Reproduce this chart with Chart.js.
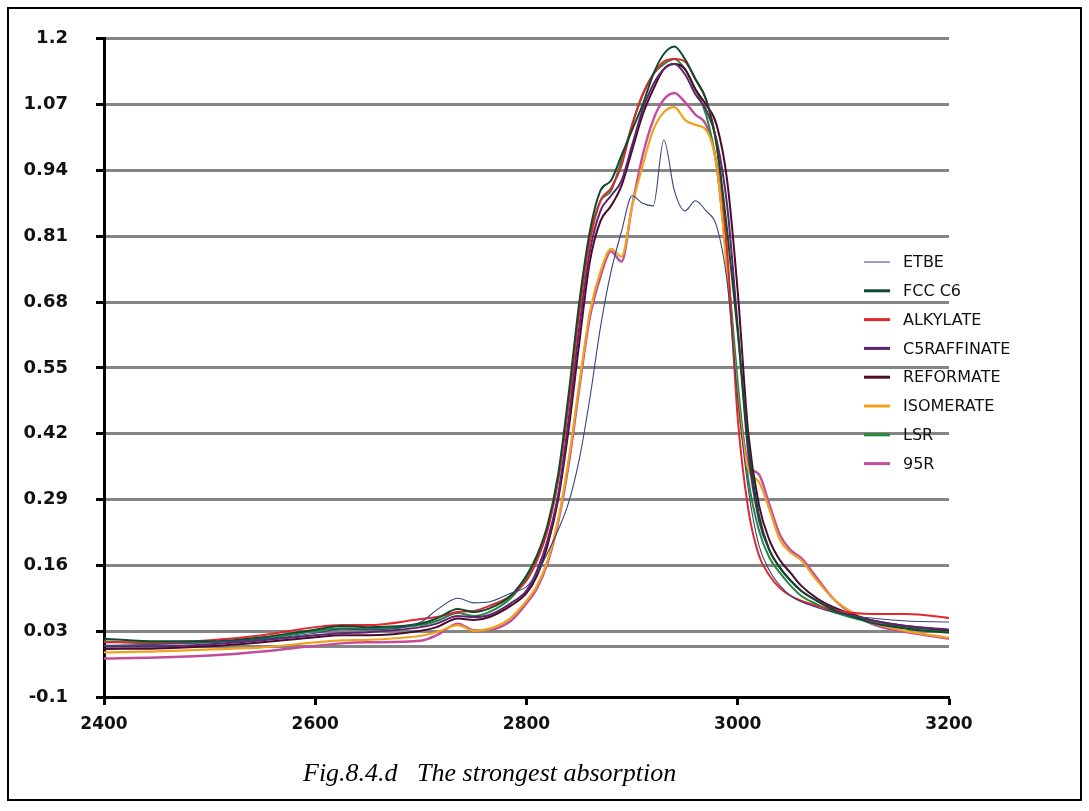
<!DOCTYPE html>
<html>
<head>
<meta charset="utf-8">
<title>Fig.8.4.d The strongest absorption</title>
<script src="https://cdn.jsdelivr.net/npm/chart.js@4.4.1/dist/chart.umd.min.js"></script>
<style>
  html, body { margin: 0; padding: 0; background: #ffffff; }
  canvas { display: block; }
</style>
</head>
<body>
<canvas id="spectra" width="1089" height="811"></canvas>
<script>
// Wavenumber grid (cm-1) shared by every spectrum
const wavenumbers = [2400, 2450, 2500, 2550, 2600, 2625, 2650, 2700, 2715, 2735,
  2750, 2765, 2785, 2800, 2810, 2820, 2830, 2840, 2850, 2860,
  2870, 2880, 2890, 2900, 2910, 2920, 2930, 2940, 2950, 2960,
  2970, 2980, 2990, 3000, 3010, 3020, 3030, 3040, 3050, 3060,
  3075, 3090, 3110, 3130, 3160, 3200];

// Absorbance of each sample
const etbe = [0.002, 0.004, 0.008, 0.014, 0.026, 0.034, 0.033, 0.048, 0.072, 0.095,
  0.086, 0.088, 0.105, 0.118, 0.145, 0.185, 0.230, 0.285, 0.370, 0.490,
  0.630, 0.740, 0.820, 0.890, 0.875, 0.870, 1.000, 0.900, 0.860, 0.880,
  0.860, 0.830, 0.720, 0.490, 0.310, 0.200, 0.150, 0.120, 0.100, 0.088,
  0.077, 0.068, 0.060, 0.055, 0.050, 0.048];
const fccC6 = [0.015, 0.010, 0.010, 0.018, 0.033, 0.040, 0.038, 0.045, 0.055, 0.074,
  0.068, 0.075, 0.100, 0.140, 0.180, 0.240, 0.340, 0.500, 0.680, 0.820,
  0.900, 0.920, 0.970, 1.020, 1.070, 1.130, 1.170, 1.185, 1.160, 1.120,
  1.080, 0.990, 0.820, 0.620, 0.400, 0.260, 0.190, 0.155, 0.130, 0.110,
  0.090, 0.072, 0.058, 0.045, 0.035, 0.027];
const alkylate = [0.008, 0.008, 0.012, 0.022, 0.038, 0.042, 0.042, 0.054, 0.058, 0.068,
  0.070, 0.080, 0.100, 0.130, 0.170, 0.230, 0.330, 0.480, 0.660, 0.800,
  0.880, 0.905, 0.950, 1.030, 1.090, 1.130, 1.155, 1.160, 1.155, 1.120,
  1.080, 0.990, 0.780, 0.450, 0.270, 0.180, 0.140, 0.115, 0.100, 0.090,
  0.080, 0.072, 0.066, 0.064, 0.064, 0.056];
const c5Raffinate = [0.000, 0.000, 0.004, 0.012, 0.022, 0.026, 0.028, 0.038, 0.045, 0.060,
  0.058, 0.062, 0.085, 0.110, 0.150, 0.210, 0.300, 0.450, 0.630, 0.780,
  0.860, 0.890, 0.920, 0.990, 1.060, 1.110, 1.140, 1.150, 1.130, 1.090,
  1.060, 1.000, 0.870, 0.630, 0.380, 0.250, 0.190, 0.155, 0.130, 0.110,
  0.090, 0.075, 0.060, 0.050, 0.040, 0.033];
const reformate = [-0.005, -0.004, 0.000, 0.008, 0.018, 0.022, 0.022, 0.031, 0.038, 0.055,
  0.052, 0.058, 0.080, 0.105, 0.140, 0.200, 0.290, 0.430, 0.600, 0.760,
  0.840, 0.870, 0.910, 0.980, 1.050, 1.100, 1.140, 1.150, 1.140, 1.100,
  1.070, 1.030, 0.920, 0.700, 0.420, 0.280, 0.210, 0.170, 0.145, 0.120,
  0.095, 0.078, 0.062, 0.050, 0.040, 0.032];
const isomerate = [-0.012, -0.010, -0.006, -0.002, 0.008, 0.012, 0.013, 0.021, 0.028, 0.042,
  0.031, 0.035, 0.056, 0.090, 0.120, 0.170, 0.250, 0.370, 0.520, 0.660,
  0.740, 0.785, 0.770, 0.870, 0.950, 1.020, 1.055, 1.065, 1.040, 1.030,
  1.020, 0.950, 0.740, 0.490, 0.350, 0.325, 0.270, 0.210, 0.185, 0.170,
  0.130, 0.095, 0.065, 0.045, 0.030, 0.017];
const lsr = [0.010, 0.006, 0.008, 0.015, 0.030, 0.036, 0.035, 0.042, 0.050, 0.066,
  0.060, 0.068, 0.095, 0.135, 0.175, 0.235, 0.330, 0.490, 0.670, 0.810,
  0.880, 0.900, 0.960, 1.030, 1.090, 1.130, 1.150, 1.160, 1.140, 1.100,
  1.050, 0.950, 0.760, 0.520, 0.330, 0.230, 0.175, 0.145, 0.120, 0.100,
  0.083, 0.068, 0.056, 0.045, 0.038, 0.030];
const r95 = [-0.024, -0.022, -0.018, -0.010, 0.001, 0.006, 0.008, 0.011, 0.022, 0.045,
  0.032, 0.033, 0.050, 0.085, 0.115, 0.165, 0.245, 0.360, 0.510, 0.650,
  0.730, 0.780, 0.760, 0.870, 0.970, 1.040, 1.080, 1.093, 1.075, 1.050,
  1.030, 0.950, 0.750, 0.500, 0.360, 0.340, 0.280, 0.220, 0.190, 0.175,
  0.135, 0.095, 0.062, 0.042, 0.028, 0.015];

const seriesNames = ['ETBE', 'FCC C6', 'ALKYLATE', 'C5RAFFINATE', 'REFORMATE', 'ISOMERATE', 'LSR', '95R'];
const seriesValues = [etbe, fccC6, alkylate, c5Raffinate, reformate, isomerate, lsr, r95];

// Axis ticks
const xTickValues = [2400, 2600, 2800, 3000, 3200];
const yTickValues = [-0.1, 0, 0.03, 0.16, 0.29, 0.42, 0.55, 0.68, 0.81, 0.94, 1.07, 1.2];
const yTickLabels = ['-0.1', '', '0.03', '0.16', '0.29', '0.42', '0.55', '0.68', '0.81', '0.94', '1.07', '1.2'];

const captionText = 'Fig.8.4.d   The strongest absorption';

// Styling
const lineColors = ['#34457f', '#0f4a2e', '#e2262b', '#5e2470', '#4c0b2b', '#f2a31e', '#23893c', '#c24d9d'];
const lineWidths = [1.1, 2, 2, 2, 2, 2.2, 2, 2.4];
const legendSwatchWidths = [1, 3, 3, 3, 3, 3, 3, 3];
const xTickFont = { family: 'DejaVu Sans', size: 17, weight: 'bold' };
const yTickFont = { family: 'DejaVu Sans', size: 18, weight: 'bold' };

const datasets = seriesNames.map((name, i) => ({
  label: name,
  data: wavenumbers.map((w, k) => ({ x: w, y: seriesValues[i][k] })),
  borderColor: lineColors[i],
  backgroundColor: lineColors[i],
  borderWidth: lineWidths[i],
  pointRadius: 0,
  fill: false,
  cubicInterpolationMode: 'monotone'
}));

// Frame, in-plot legend and caption
const decorations = {
  id: 'decorations',
  afterDraw(chart) {
    const ctx = chart.ctx;
    ctx.save();
    // outer frame
    ctx.strokeStyle = '#000';
    ctx.lineWidth = 2;
    ctx.strokeRect(8, 8, 1073, 792);

    // legend
    ctx.font = '16px "DejaVu Sans"';
    ctx.textBaseline = 'middle';
    ctx.textAlign = 'left';
    chart.data.datasets.forEach((ds, i) => {
      const y = 262 + i * 28.8;
      ctx.strokeStyle = ds.borderColor;
      ctx.lineWidth = legendSwatchWidths[i];
      ctx.beginPath();
      ctx.moveTo(864, y);
      ctx.lineTo(890, y);
      ctx.stroke();
      ctx.fillStyle = '#111';
      ctx.fillText(ds.label, 903, y + 1);
    });

    // caption
    ctx.font = 'italic 26px "Liberation Serif"';
    ctx.textBaseline = 'alphabetic';
    ctx.fillStyle = '#000';
    ctx.fillText(captionText, 303, 781);
    ctx.restore();
  }
};

new Chart(document.getElementById('spectra'), {
  type: 'line',
  data: { datasets },
  options: {
    responsive: false,
    animation: false,
    devicePixelRatio: 1,
    layout: { padding: { left: 0, top: 33, right: 140, bottom: 54 } },
    plugins: {
      legend: { display: false },
      tooltip: { enabled: false }
    },
    scales: {
      x: {
        type: 'linear',
        min: 2400,
        max: 3200,
        afterBuildTicks(scale) { scale.ticks = xTickValues.map(v => ({ value: v })); },
        afterFit(scale) { scale.height = 60; },
        ticks: {
          font: xTickFont,
          color: '#111',
          padding: 9,
          maxRotation: 0,
          callback: (v) => String(v)
        },
        grid: {
          drawOnChartArea: false,
          drawTicks: true,
          tickLength: 8,
          tickWidth: 3,
          tickColor: '#000'
        },
        border: { display: true, color: '#000', width: 3 }
      },
      y: {
        type: 'linear',
        min: -0.1,
        max: 1.2,
        afterBuildTicks(scale) { scale.ticks = yTickValues.map(v => ({ value: v })); },
        afterFit(scale) { scale.width = 104; },
        ticks: {
          font: yTickFont,
          color: '#111',
          padding: 28,
          callback: (v) => {
            const idx = yTickValues.findIndex(t => Math.abs(t - v) < 1e-9);
            return idx >= 0 ? yTickLabels[idx] : '';
          }
        },
        grid: {
          drawOnChartArea: true,
          lineWidth: 3,
          color: (c) => (c.tick && Math.abs(c.tick.value + 0.1) < 1e-9) ? 'rgba(0,0,0,0)' : '#858585',
          drawTicks: true,
          tickLength: 8,
          tickWidth: 3,
          tickColor: (c) => (c.tick && Math.abs(c.tick.value) < 1e-9) ? 'rgba(0,0,0,0)' : '#000'
        },
        border: { display: true, color: '#000', width: 3 }
      }
    }
  },
  plugins: [decorations]
});
</script>
</body>
</html>
